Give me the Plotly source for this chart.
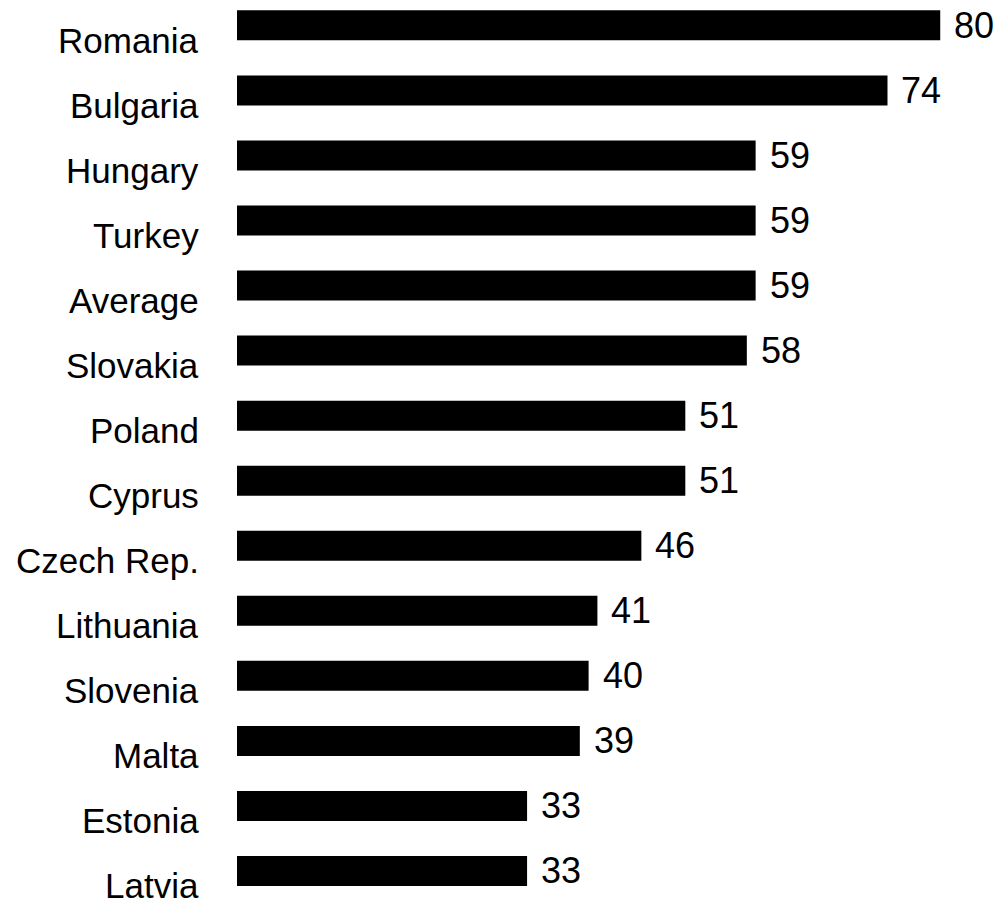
import plotly.graph_objects as go

countries = ["Romania", "Bulgaria", "Hungary", "Turkey", "Average", "Slovakia",
             "Poland", "Cyprus", "Czech Rep.", "Lithuania", "Slovenia", "Malta",
             "Estonia", "Latvia"]
values = [80, 74, 59, 59, 59, 58, 51, 51, 46, 41, 40, 39, 33, 33]

FONT = "Liberation Sans, Arial, Helvetica, sans-serif"

fig = go.Figure(go.Bar(
    x=values, y=countries, orientation="h",
    marker=dict(color="black", line=dict(width=0)),
    width=0.461, hoverinfo="skip",
))

annotations = []
for c, v in zip(countries, values):
    annotations.append(dict(
        x=v, y=c, xref="x", yref="y", text=str(v), showarrow=False,
        xanchor="left", yanchor="middle", xshift=12,
        font=dict(family=FONT, size=36, color="black"),
    ))
    annotations.append(dict(
        x=0, y=c, xref="paper", yref="y", text=c, showarrow=False,
        xanchor="right", yanchor="middle", xshift=-36, yshift=-15,
        font=dict(family=FONT, size=35, color="black"),
    ))

fig.update_layout(
    width=1008, height=900,
    margin=dict(l=229, r=0, t=0, b=0),
    paper_bgcolor="white", plot_bgcolor="white",
    showlegend=False,
    annotations=annotations,
    xaxis=dict(range=[0, 88.62], visible=False, fixedrange=True),
    yaxis=dict(categoryorder="array", categoryarray=countries,
               range=[13.569, -0.2667], showticklabels=False,
               showgrid=False, zeroline=False, showline=False, ticks=""),
)

fig.write_html("out.html")
